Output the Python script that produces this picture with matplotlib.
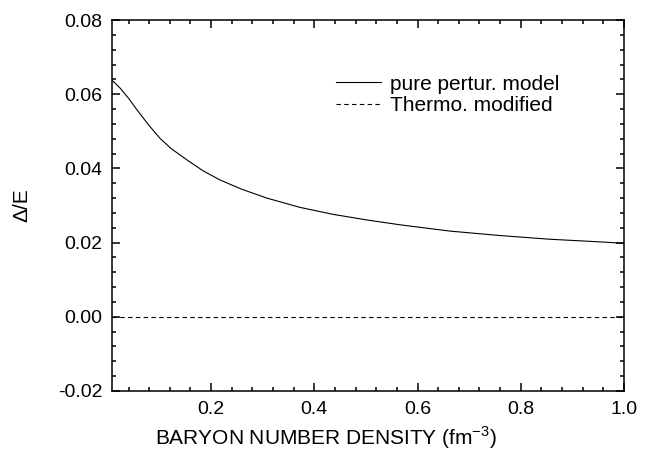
import numpy as np
import matplotlib
matplotlib.use("Agg")
import matplotlib.pyplot as plt
from matplotlib.ticker import MultipleLocator, FormatStrFormatter

plt.rcParams['font.family'] = ['Liberation Sans', 'DejaVu Sans']
plt.rcParams['mathtext.fontset'] = 'custom'
plt.rcParams['mathtext.rm'] = 'Liberation Sans'

# density (fm^-3) and Delta/E
density = [0.008, 0.024, 0.040, 0.059, 0.079, 0.101, 0.122, 0.153, 0.185, 0.217, 0.259,
           0.308, 0.372, 0.437, 0.502, 0.566, 0.663, 0.76, 0.857, 0.953, 1.0]
pure_pert = [0.0638, 0.0616, 0.0589, 0.0553, 0.0517, 0.0481, 0.0454, 0.0423, 0.0393, 0.0369, 0.0344,
             0.0320, 0.0295, 0.0276, 0.0261, 0.0248, 0.0231, 0.0219, 0.0209, 0.0202, 0.0198]
thermo_x = [0.008, 1.0]
thermo_y = [0.0, 0.0]

fig = plt.figure(figsize=(6.54, 4.58), dpi=100)
ax = fig.add_axes([0.1713, 0.1463, 0.7828, 0.81])

ax.plot(density, pure_pert, color='black', lw=0.8, label='pure pertur. model')
ax.plot(thermo_x, thermo_y, color='black', lw=0.8, ls=(0, (4, 3)), label='Thermo. modified')

ax.set_xlim(0.008, 1.0)
ax.set_ylim(-0.02, 0.08)
ax.xaxis.set_major_locator(MultipleLocator(0.2))
ax.xaxis.set_minor_locator(MultipleLocator(0.04))
ax.yaxis.set_major_locator(MultipleLocator(0.02))
ax.yaxis.set_minor_locator(MultipleLocator(0.004))
ax.xaxis.set_major_formatter(FormatStrFormatter('%.1f'))
ax.yaxis.set_major_formatter(FormatStrFormatter('%.2f'))

ax.tick_params(which='both', direction='in', top=True, right=True, width=1.1, labelsize=14, pad=7)
ax.tick_params(which='major', length=5.5)
ax.tick_params(which='minor', length=3)
for s in ax.spines.values():
    s.set_linewidth(1.1)

ax.set_xlabel('BARYON NUMBER DENSITY (fm$^{\\mathrm{-3}}$)', fontsize=15)
ax.xaxis.set_label_coords(0.418, -0.09)
ax.set_ylabel('Δ/E', fontsize=15, labelpad=19)

ax.legend(loc='upper left', bbox_to_anchor=(0.422, 0.875), frameon=False, fontsize=15,
          handlelength=2.16, handletextpad=0.43, labelspacing=0.12, borderaxespad=0)

fig.savefig('out.png', dpi=100)
